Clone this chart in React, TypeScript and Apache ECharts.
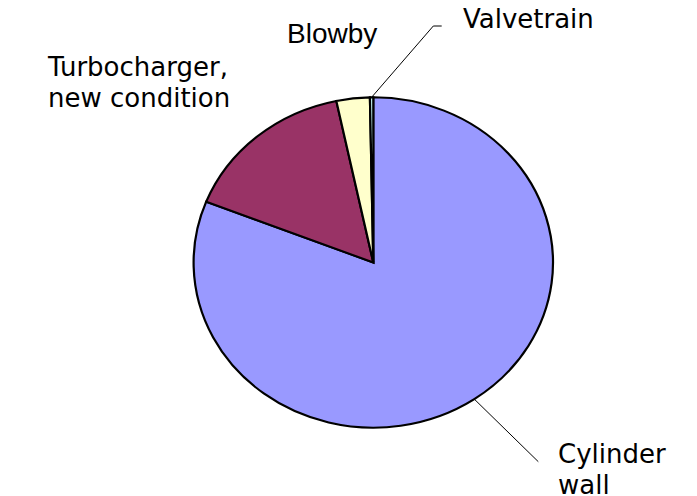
import React, { useEffect, useRef } from "react";
import * as echarts from "echarts";

const categories = ["Cylinder\nwall", "Turbocharger,\nnew condition", "Blowby", "Valvetrain"];
const values = [81.0, 15.7, 3.0, 0.3];
const colors = ["#9999FF", "#993366", "#FFFFCC", "#CCFFFF"];

export default function App() {
  const ref = useRef<HTMLDivElement>(null);
  useEffect(() => {
    const chart = echarts.init(ref.current!, null, { renderer: "svg" });
    const CX = 373.3, CY = 262.5, RX = 179.7, RY = 165.2;
    const total = values.reduce((a, b) => a + b, 0);
    const labelCfg: any[] = [
      { x: 558, y: 469.2, font: '"DejaVu Sans"', size: 26, line: [[538.3, 461.7]] },
      { x: 48, y: 82.6, font: '"DejaVu Sans"', size: 26, line: null },
      { x: 287, y: 33.3, font: '"Liberation Sans"', size: 28, line: null },
      { x: 463, y: 18.9, font: '"DejaVu Sans"', size: 26, line: [[433.3, 26], [441.7, 26]] },
    ];
    chart.setOption({
      animation: false,
      backgroundColor: "#ffffff",
      series: [
        {
          type: "custom",
          coordinateSystem: "none",
          silent: true,
          data: values.map((v, i) => ({ value: v, name: categories[i] })),
          renderItem: (params: any, api: any) => {
            const i = params.dataIndex;
            const v = api.value(0);
            let cum = 0;
            for (let k = 0; k < i; k++) cum += values[k];
            const a0 = (cum / total) * Math.PI * 2;
            const a1 = ((cum + v) / total) * Math.PI * 2;
            const mid = (a0 + a1) / 2;
            const children: any[] = [
              {
                type: "sector",
                x: CX,
                y: CY,
                scaleY: RY / RX,
                shape: {
                  cx: 0,
                  cy: 0,
                  r0: 0,
                  r: RX,
                  startAngle: -Math.PI / 2 + a0,
                  endAngle: -Math.PI / 2 + a1,
                  clockwise: true,
                },
                style: {
                  fill: colors[i],
                  stroke: "#000000",
                  lineWidth: 2.2,
                  strokeNoScale: true,
                },
                z2: 1,
              },
            ];
            const cfg = labelCfg[i];
            if (cfg.line) {
              const sx = CX + RX * Math.sin(mid);
              const sy = CY - RY * Math.cos(mid);
              children.push({
                type: "polyline",
                shape: { points: [[sx, sy], ...cfg.line] },
                style: { stroke: "#000000", lineWidth: 1, fill: null },
                z2: 5,
              });
            }
            children.push({
              type: "text",
              x: cfg.x,
              y: cfg.y,
              style: {
                text: categories[i],
                fill: "#000000",
                font: `${cfg.size}px ${cfg.font}`,
                align: "left",
                verticalAlign: "middle",
                lineHeight: 30.7,
              },
              z2: 10,
            });
            return { type: "group", children };
          },
        },
      ],
    });
    return () => chart.dispose();
  }, []);
  return (
    <div
      ref={ref}
      style={{ position: "fixed", left: 0, top: 0, width: 697, height: 496 }}
    />
  );
}
